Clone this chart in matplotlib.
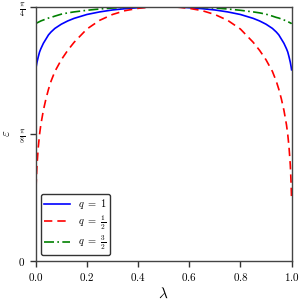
import numpy as np
from matplotlib import pyplot as plt

plt.rcParams['mathtext.fontset'] = 'cm'
plt.rcParams['font.family'] = 'serif'
plt.rcParams['font.serif'] = ['DejaVu Serif']

# values
lam = [0.0, 0.002, 0.005, 0.01, 0.015, 0.02, 0.03, 0.04, 0.05, 0.06, 0.075,
       0.1, 0.125, 0.15, 0.2, 0.25, 0.3, 0.35, 0.4, 0.45, 0.5,
       0.55, 0.6, 0.65, 0.7, 0.75, 0.8, 0.85, 0.875, 0.9, 0.925,
       0.94, 0.95, 0.96, 0.97, 0.98, 0.985, 0.99, 0.995, 0.998, 1.0]

eps_q1 = [0.590, 0.600, 0.613, 0.630, 0.645, 0.655, 0.672, 0.685, 0.698, 0.707, 0.718,
          0.731, 0.741, 0.749, 0.761, 0.769, 0.775, 0.779, 0.782, 0.7845, 0.7854,
          0.7845, 0.782, 0.779, 0.775, 0.769, 0.761, 0.749, 0.741, 0.731, 0.718,
          0.707, 0.698, 0.685, 0.672, 0.655, 0.645, 0.630, 0.613, 0.600, 0.590]

eps_q_half = [0.185, 0.240, 0.295, 0.350, 0.390, 0.420, 0.465, 0.500, 0.530, 0.555, 0.585,
              0.621, 0.650, 0.675, 0.716, 0.743, 0.761, 0.773, 0.780, 0.784, 0.7854,
              0.784, 0.780, 0.773, 0.761, 0.743, 0.716, 0.675, 0.650, 0.621, 0.585,
              0.555, 0.530, 0.500, 0.465, 0.420, 0.390, 0.350, 0.295, 0.240, 0.185]

eps_q_3half = [0.732, 0.734, 0.735, 0.737, 0.739, 0.741, 0.744, 0.747, 0.750, 0.752, 0.756,
               0.762, 0.766, 0.769, 0.774, 0.778, 0.781, 0.783, 0.7845, 0.785, 0.7854,
               0.785, 0.7845, 0.783, 0.781, 0.778, 0.774, 0.769, 0.766, 0.762, 0.756,
               0.752, 0.750, 0.747, 0.744, 0.741, 0.739, 0.737, 0.735, 0.734, 0.732]

x_ticks = [0.0, 0.2, 0.4, 0.6, 0.8, 1.0]
x_tick_labels = [r'$0.0$', r'$0.2$', r'$0.4$', r'$0.6$', r'$0.8$', r'$1.0$']
y_ticks = [0, np.pi / 8, np.pi / 4]
y_tick_labels = [r'$0$', r'$\frac{\pi}{8}$', r'$\frac{\pi}{4}$']

fig = plt.figure(figsize=(3, 3), dpi=100)
ax = fig.add_axes([0.119, 0.131, 0.853, 0.847])

ax.plot(lam, eps_q1, color='b', lw=1.2, label=r'$q\ =\ 1$')
ax.plot(lam, eps_q_half, color='r', lw=1.2, ls=(0, (5, 3)), label=r'$q\ =\ \frac{1}{2}$')
ax.plot(lam, eps_q_3half, color='g', lw=1.2, ls=(0, (6, 2, 1, 2)), label=r'$q\ =\ \frac{3}{2}$')

ax.set_xlim(0, 1)
ax.set_ylim(0, np.pi / 4)
ax.set_xticks(x_ticks)
ax.set_xticklabels(x_tick_labels)
ax.set_yticks(y_ticks)
ax.set_yticklabels(y_tick_labels)
ax.tick_params(labelsize=8, length=4, width=1, color='#333333')
for s in ax.spines.values():
    s.set_color('#444444')
    s.set_linewidth(1.0)

ax.set_xlabel(r'$\lambda$', fontsize=11, labelpad=2)
ax.set_ylabel(r'$\varepsilon$', fontsize=9, labelpad=4)

leg = ax.legend(loc='lower left', fontsize=7.5, frameon=True, fancybox=True,
                borderpad=0.3, handlelength=2.5, handletextpad=0.8, labelspacing=0.2)
leg.get_frame().set_edgecolor('#333333')
leg.get_frame().set_linewidth(1.0)
leg.get_frame().set_alpha(1)

plt.savefig('out.png', dpi=100)
